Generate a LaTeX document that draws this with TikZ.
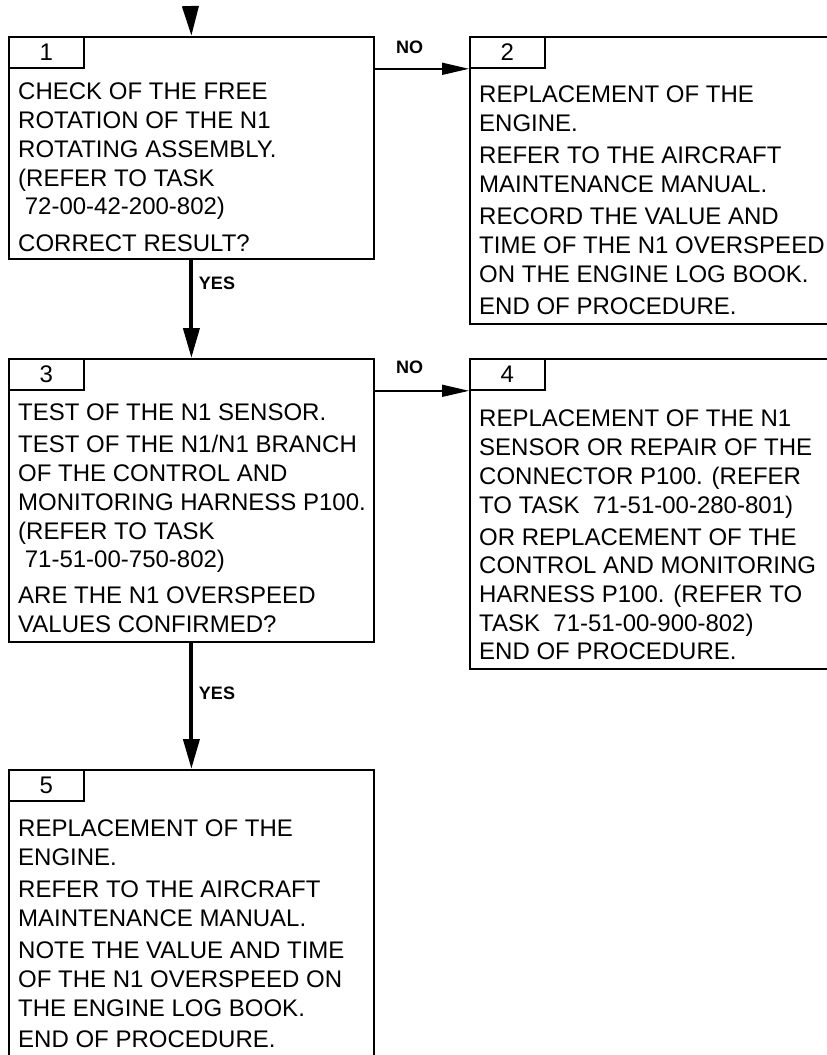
\documentclass[tikz,border=0pt]{standalone}
\usepackage{fontspec}
\setmainfont{Liberation Sans}
\usepackage{tikz}
\usetikzlibrary{positioning,arrows.meta}

\begin{document}
\begin{tikzpicture}[x=1pt, y=-1pt,
    every node/.style={font=\fontsize{24}{28.7}\selectfont},
    stepbox/.style={draw, line width=1.8pt, rectangle, inner sep=0pt, anchor=north west, minimum width=365pt},
    tab/.style={draw, line width=1.8pt, rectangle, inner sep=0pt, anchor=north west, minimum width=75pt, minimum height=31pt},
    body/.style={anchor=north west, inner sep=0pt, align=left},
    answer/.style={font=\fontsize{18}{20}\selectfont\bfseries},
    yesarrow/.style={line width=4pt, -{Triangle[length=30pt,width=16pt]}},
    noarrow/.style={line width=1.6pt, -{Triangle[length=27pt,width=12pt]}}]
      \clip (0,0) rectangle (827,1055);
      % boxes
      \node[stepbox, minimum height=222pt] (b1) at (8,36) {};
      \node[stepbox, minimum width=400pt, minimum height=287pt] (b2) at (469,36) {};
      \node[stepbox, minimum height=283pt] (b3) at (8,358) {};
      \node[stepbox, minimum width=400pt, minimum height=310pt] (b4) at (469,358) {};
      \node[stepbox, minimum height=320pt] (b5) at (8,769) {};
      % number tabs
      \node[tab] (t1) at (b1.north west) {1};
      \node[tab] (t2) at (b2.north west) {2};
      \node[tab] (t3) at (b3.north west) {3};
      \node[tab] (t4) at (b4.north west) {4};
      \node[tab] (t5) at (b5.north west) {5};
      % texts
      \node[body] (x1) at (18,83) {CHECK OF THE FREE\\ROTATION OF THE N1\\ROTATING ASSEMBLY.\\(REFER TO TASK\\\ 72-00-42-200-802)\\[8pt]CORRECT RESULT?};
      \node[body] (x2) at (479,86) {REPLACEMENT OF THE\\ENGINE.\\[3.5pt]REFER TO THE AIRCRAFT\\MAINTENANCE MANUAL.\\[3.5pt]RECORD THE VALUE AND\\TIME OF THE N1 OVERSPEED\\ON THE ENGINE LOG BOOK.\\[3.5pt]END OF PROCEDURE.};
      \node[body] (x3) at (18,404) {TEST OF THE N1 SENSOR.\\[3.3pt]TEST OF THE N1/N1 BRANCH\\OF THE CONTROL AND\\MONITORING HARNESS P100.\\(REFER TO TASK\\\ 71-51-00-750-802)\\[7pt]ARE THE N1 OVERSPEED\\VALUES CONFIRMED?};
      \node[body] (x4) at (479,410) {REPLACEMENT OF THE N1\\SENSOR OR REPAIR OF THE\\CONNECTOR P100. (REFER\\TO TASK\ \ 71-51-00-280-801)\\[3.3pt]OR REPLACEMENT OF THE\\CONTROL AND MONITORING\\HARNESS P100. (REFER TO\\TASK\ \ 71-51-00-900-802)\\END OF PROCEDURE.};
      \node[body] (x5) at (18,820) {REPLACEMENT OF THE\\ENGINE.\\[3.5pt]REFER TO THE AIRCRAFT\\MAINTENANCE MANUAL.\\[3.5pt]NOTE THE VALUE AND TIME\\OF THE N1 OVERSPEED ON\\THE ENGINE LOG BOOK.\\[3pt]END OF PROCEDURE.};
      % connectors
      \coordinate (entry) at (190.5,8);
      \draw[yesarrow] (entry) -- (b1.north);
      \draw[noarrow] (t1.south -| b1.east) -- (t2.south west);
      \draw[yesarrow] (b1.south) -- (b3.north);
      \draw[noarrow] (t3.south -| b3.east) -- (t4.south west);
      \draw[yesarrow] (b3.south) -- (b5.north);
      % answers
      \node[answer] (no1) at (409.5,47) {NO};
      \node[answer] (yes1) at (217,283) {YES};
      \node[answer] (no2) at (409.5,367) {NO};
      \node[answer] (yes2) at (217,693) {YES};
    \end{tikzpicture}
\end{document}
